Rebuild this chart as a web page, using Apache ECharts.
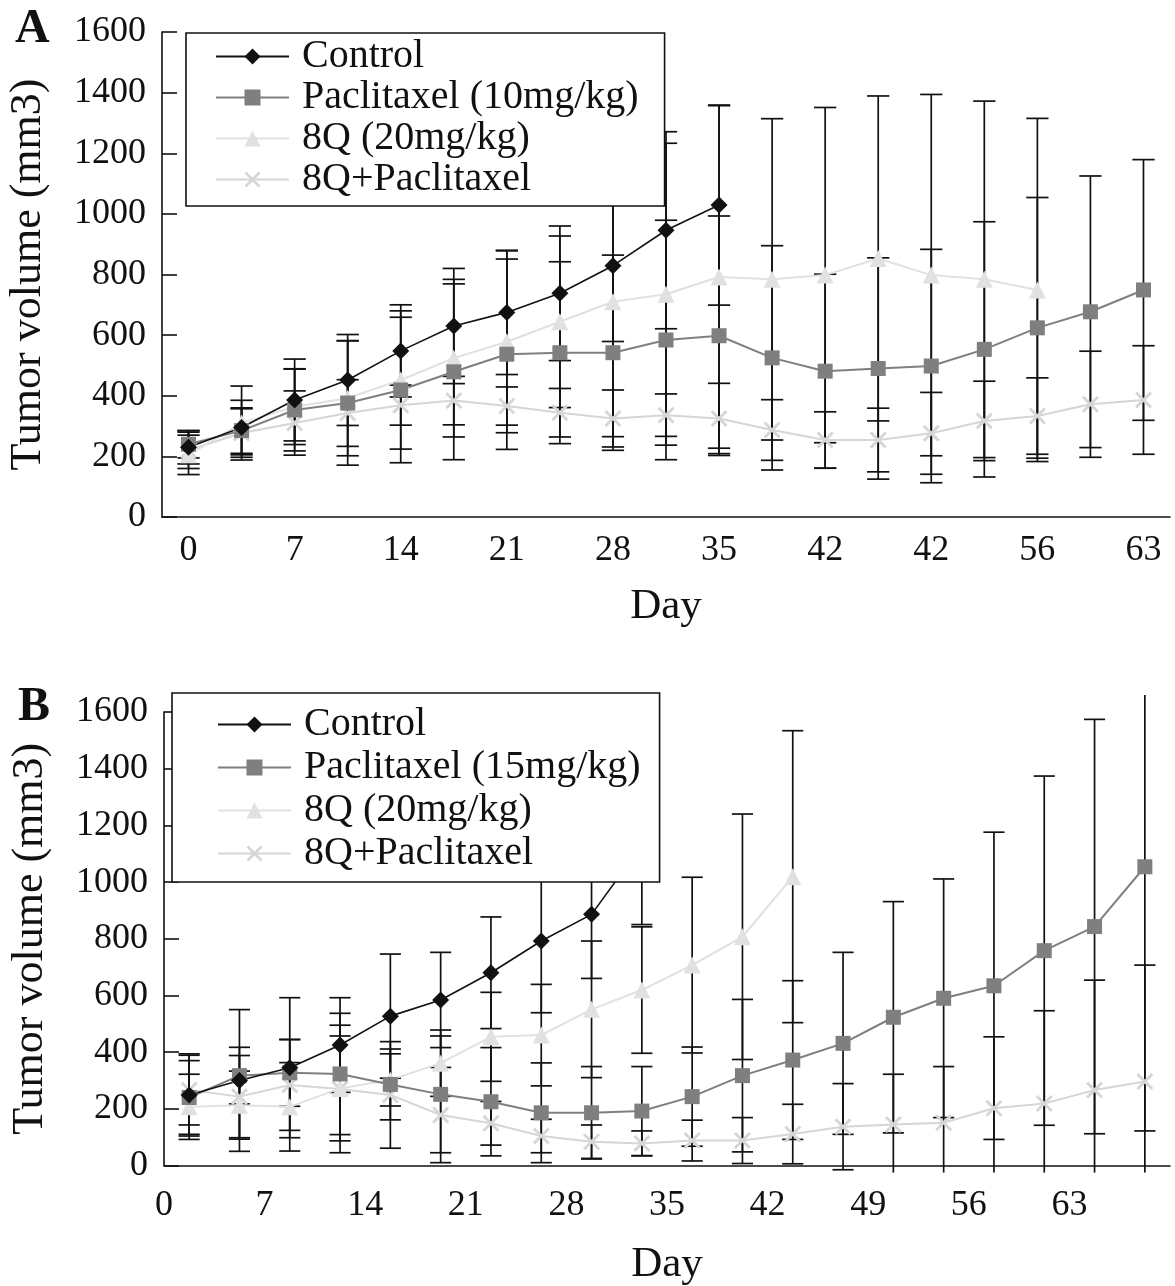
<!DOCTYPE html>
<html>
<head>
<meta charset="utf-8">
<script src="https://cdn.jsdelivr.net/npm/echarts@6/dist/echarts.min.js"></script>
<style>
  html, body { margin: 0; padding: 0; background: #fff; }
  #chart { width: 1175px; height: 1286px; }
</style>
</head>
<body>
<div id="chart"></div>
<script>
// panel A: days (one category per measurement), shown tick labels
var daysA = ['0', '3.5', '7', '10.5', '14', '17.5', '21', '24.5', '28', '31.5', '35', '38.5', '42', '45.5', '49', '52.5', '56', '59.5', '63'];
var tickLabelsA = ['0', '7', '14', '21', '28', '35', '42', '42', '56', '63'];

var controlA = [230, 295, 386, 452, 548, 630, 675, 738, 829, 946, 1029];
var controlSdA = [55, 90, 135, 150, 152, 190, 205, 222, 250, 325, 330];
var paclitaxelA = [240, 285, 353, 376, 419, 479, 537, 542, 542, 584, 598, 525, 481, 490, 498, 553, 624, 677, 749];
var paclitaxelSdA = [45, 75, 135, 205, 240, 290, 314, 300, 322, 395, 395, 370, 320, 365, 385, 421, 430, 448, 430];
var q8A = [205, 310, 364, 392, 452, 524, 578, 644, 710, 735, 792, 784, 798, 853, 798, 784, 749];
var q8SdA = [65, 122, 125, 190, 228, 260, 300, 283, 445, 498, 565, 530, 553, 536, 596, 588, 566];
var comboA = [220, 277, 310, 343, 369, 384, 366, 344, 325, 336, 325, 287, 254, 254, 276, 317, 333, 372, 386];
var comboSdA = [60, 80, 106, 110, 66, 80, 63, 80, 94, 70, 116, 100, 93, 105, 135, 131, 126, 175, 179];

// panel B
var daysB = ['0', '3.5', '7', '10.5', '14', '17.5', '21', '24.5', '28', '31.5', '35', '38.5', '42', '45.5', '49', '52.5', '56', '59.5', '63', '66.5'];
var tickLabelsB = ['0', '7', '14', '21', '28', '35', '42', '49', '56', '63'];

var controlB = [249, 300, 345, 425, 527, 584, 680, 792, 886, 1130];
var controlSdB = [145, 250, 247, 167, 219, 168, 197, 253, 226, 280];
var paclitaxelB = [240, 317, 327, 323, 286, 251, 225, 186, 186, 192, 243, 317, 372, 431, 523, 590, 634, 758, 843, 1054];
var paclitaxelSdB = [130, 100, 118, 214, 125, 206, 191, 176, 163, 157, 175, 269, 280, 321, 408, 421, 542, 616, 731, 932];
var q8B = [207, 213, 207, 272, 302, 361, 454, 460, 551, 619, 707, 807, 1019];
var q8SdB = [115, 120, 156, 185, 92, 117, 157, 179, 241, 223, 310, 433, 515];
var comboB = [266, 243, 284, 270, 249, 178, 149, 104, 84, 78, 88, 88, 111, 137, 145, 151, 202, 219, 266, 296];
var comboSdB = [123, 145, 160, 225, 188, 168, 77, 59, 59, 44, 72, 81, 105, 152, 177, 198, 252, 327, 388, 411];

var FONT = 'Liberation Serif';
var xMark = 'path://M0,1.2L1.2,0L5,3.8L8.8,0L10,1.2L6.2,5L10,8.8L8.8,10L5,6.2L1.2,10L0,8.8L3.8,5Z';

var styles = {
    control: { symbol: 'diamond', size: 17, color: '#111111' },
    paclitaxel: { symbol: 'rect', size: 15, color: '#7f7f7f' },
    q8: { symbol: 'triangle', size: 17, color: '#e0e1e0' },
    combo: { symbol: xMark, size: 17, color: '#d6d6d6' }
};

function lineSeries(name, data, st, xi, yi) {
    return {
        name: name,
        type: 'line',
        xAxisIndex: xi,
        yAxisIndex: yi,
        data: data,
        symbol: st.symbol,
        symbolSize: st.size,
        itemStyle: { color: st.color },
        lineStyle: { color: st.color, width: st.color === '#111111' ? 1.6 : 2 },
        z: 3,
        animation: false
    };
}

// error bars: black vertical line with caps, clipped to a visible range
function errSeries(values, sds, xi, yi, range) {
    var rows = values.map(function (v, i) { return [i, v - sds[i], v + sds[i]]; });
    return {
        type: 'custom',
        xAxisIndex: xi,
        yAxisIndex: yi,
        data: rows,
        encode: { x: 0, y: [1, 2] },
        silent: true,
        z: 2,
        animation: false,
        renderItem: function (params, api) {
            var x = api.value(0), lo = api.value(1), hi = api.value(2);
            var loC = Math.max(lo, range[0]), hiC = Math.min(hi, range[1]);
            var top = api.coord([x, hiC]);
            var bot = api.coord([x, loC]);
            var half = api.size([1, 0])[0] * 0.21;
            var st = { stroke: '#111', lineWidth: 1.7 };
            var kids = [{ type: 'line', shape: { x1: top[0], y1: top[1], x2: bot[0], y2: bot[1] }, style: st }];
            if (hi === hiC) kids.push({ type: 'line', shape: { x1: top[0] - half, y1: top[1], x2: top[0] + half, y2: top[1] }, style: st });
            if (lo === loC) kids.push({ type: 'line', shape: { x1: bot[0] - half, y1: bot[1], x2: bot[0] + half, y2: bot[1] }, style: st });
            return { type: 'group', children: kids };
        }
    };
}

var axisLine = { lineStyle: { color: '#111', width: 1.6 } };
var labelFont = { fontFamily: FONT, fontSize: 36, color: '#111' };

function yAxis(grid) {
    return {
        type: 'value', gridIndex: grid, min: 0, max: 1600, interval: 200,
        name: 'Tumor volume (mm3)', nameLocation: 'middle', nameRotate: 90, nameGap: 112,
        nameTextStyle: { fontFamily: FONT, fontSize: 44, color: '#111' },
        axisLine: { show: true, lineStyle: axisLine.lineStyle },
        axisTick: { show: true, inside: true, length: 15, lineStyle: axisLine.lineStyle },
        axisLabel: Object.assign({ margin: 16, formatter: function (v) { return String(v); } }, labelFont),
        splitLine: { show: false }
    };
}

function legend(top, left, names, rowHeight, pad) {
    return {
        orient: 'vertical', left: left, top: top,
        data: names, selectedMode: false,
        backgroundColor: '#fff', borderColor: '#111', borderWidth: 1.6, borderRadius: 0,
        padding: pad,
        itemWidth: 73, itemHeight: 20, itemGap: 0,
        textStyle: { fontFamily: FONT, fontSize: 40, lineHeight: rowHeight, color: '#111', padding: [0, 0, 0, 8] },
        z: 10
    };
}

// boundary labels for panel B: labels sit on every second tick
var boundaryB = [];
for (var j = 0; j <= daysB.length; j++) {
    boundaryB.push(j % 2 === 0 && j / 2 < tickLabelsB.length ? tickLabelsB[j / 2] : '');
}

var chart = echarts.init(document.getElementById('chart'));
var rangeA = [-1000, 5000];
var rangeB = [-25, 1660];

chart.setOption({
    backgroundColor: '#fff',
    animation: false,
    graphic: [
        { type: 'text', left: 15, top: 6, style: { text: 'A', fontFamily: FONT, fontSize: 48, fontWeight: 'bold', fill: '#111' } },
        { type: 'text', left: 18, top: 684, style: { text: 'B', fontFamily: FONT, fontSize: 48, fontWeight: 'bold', fill: '#111' } }
    ],
    grid: [
        { left: 162, top: 32, width: 1008, height: 485, outerBoundsMode: 'none' },
        { left: 164, top: 712, width: 1006, height: 453.5, outerBoundsMode: 'none' }
    ],
    legend: [
        legend(33, 186, ['Control', 'Paclitaxel (10mg/kg)', '8Q (20mg/kg)', '8Q+Paclitaxel'], 41, [3, 26, 6, 29]),
        legend(693, 172, ['Control', 'Paclitaxel (15mg/kg)', '8Q (20mg/kg)', '8Q+Paclitaxel'], 43, [10, 19, 7, 45])
    ],
    xAxis: [
        {
            type: 'category', gridIndex: 0, position: 'bottom', data: daysA, boundaryGap: true,
            name: 'Day', nameLocation: 'middle', nameGap: 68,
            nameTextStyle: { fontFamily: FONT, fontSize: 43, color: '#111' },
            axisLine: axisLine,
            axisTick: { inside: true, length: 13, interval: 0, lineStyle: axisLine.lineStyle },
            axisLabel: Object.assign({
                interval: 0, margin: 16,
                formatter: function (v, i) { return i % 2 === 0 ? tickLabelsA[i / 2] : ''; }
            }, labelFont)
        },
        {
            type: 'category', gridIndex: 1, position: 'bottom', data: daysB, boundaryGap: true,
            axisLine: axisLine,
            axisTick: { inside: true, length: 13, interval: 0, lineStyle: axisLine.lineStyle },
            axisLabel: { show: false }
        },
        {
            type: 'category', gridIndex: 1, position: 'bottom', offset: 0, data: boundaryB, boundaryGap: false,
            name: 'Day', nameLocation: 'middle', nameGap: 78,
            nameTextStyle: { fontFamily: FONT, fontSize: 43, color: '#111' },
            axisLine: { show: false }, axisTick: { show: false },
            axisLabel: Object.assign({ interval: 0, margin: 22 }, labelFont)
        }
    ],
    yAxis: [yAxis(0), yAxis(1)],
    series: [
        errSeries(controlA, controlSdA, 0, 0, rangeA),
        errSeries(paclitaxelA, paclitaxelSdA, 0, 0, rangeA),
        errSeries(q8A, q8SdA, 0, 0, rangeA),
        errSeries(comboA, comboSdA, 0, 0, rangeA),
        lineSeries('8Q+Paclitaxel', comboA, styles.combo, 0, 0),
        lineSeries('8Q (20mg/kg)', q8A, styles.q8, 0, 0),
        lineSeries('Paclitaxel (10mg/kg)', paclitaxelA, styles.paclitaxel, 0, 0),
        lineSeries('Control', controlA, styles.control, 0, 0),

        errSeries(controlB, controlSdB, 1, 1, rangeB),
        errSeries(paclitaxelB, paclitaxelSdB, 1, 1, rangeB),
        errSeries(q8B, q8SdB, 1, 1, rangeB),
        errSeries(comboB, comboSdB, 1, 1, rangeB),
        lineSeries('8Q+Paclitaxel', comboB, styles.combo, 1, 1),
        lineSeries('8Q (20mg/kg)', q8B, styles.q8, 1, 1),
        lineSeries('Paclitaxel (15mg/kg)', paclitaxelB, styles.paclitaxel, 1, 1),
        lineSeries('Control', controlB, styles.control, 1, 1)
    ]
});
window.addEventListener('resize', function () { chart.resize(); });
</script>
</body>
</html>
